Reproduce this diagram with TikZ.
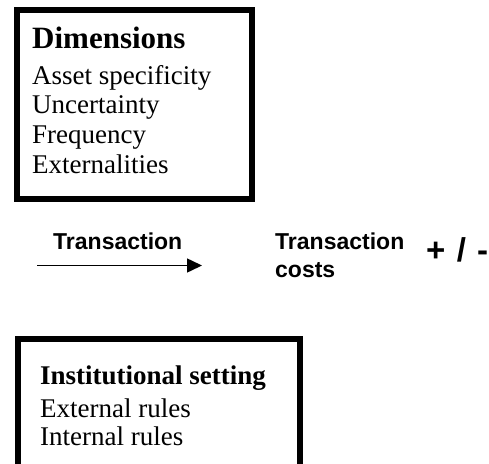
\documentclass[tikz,border=0pt]{standalone}
\usepackage{fontspec}
\setmainfont{Liberation Serif}
\setsansfont{Liberation Sans}
\usetikzlibrary{arrows.meta}
\begin{document}
\begin{tikzpicture}[x=1pt,y=-1pt,
  framebox/.style={draw=black,line width=6pt,inner sep=0pt,anchor=north west},
  headtxt/.style={anchor=base west,inner sep=0pt,font=\bfseries\fontsize{#1}{#1}\selectfont},
  itemtxt/.style={anchor=base west,inner sep=0pt,font=\fontsize{27}{27}\selectfont},
  sanstxt/.style={anchor=base west,inner sep=0pt,font=\sffamily\bfseries\fontsize{#1}{#1}\selectfont}]
\useasboundingbox (0,0) rectangle (489,463);
\begin{scope}
\clip (0,0) rectangle (489,463);
% Dimensions box
\node[framebox,minimum width=235pt,minimum height=189pt] (dimbox) at (14,7) {};
\node[headtxt=31] (dimhead) at (32,48) {Dimensions};
\node[itemtxt] (asset) at (32,84) {Asset specificity};
\node[itemtxt] (uncert) at (32,113) {Uncertainty};
\node[itemtxt] (freq) at (32,143) {Frequency};
\node[itemtxt] (extern) at (32,173) {Externalities};
% Institutional setting box, its lower edge just reaching the bottom
\node[framebox,minimum width=282pt,minimum height=128pt] (instbox) at (14.5,336) {};
\node[headtxt=27] (insthead) at (40,384) {Institutional setting};
\node[itemtxt] (extrules) at (40,417) {External rules};
\node[itemtxt] (intrules) at (40,445) {Internal rules};
% Plus / minus sign, running to the right edge
\node[sanstxt=33] (sign) at (426,261) {+\hspace{11.5pt}/\hspace{11pt}-};
\end{scope}
% Transaction arrow
\node[sanstxt=23] (trans) at (53,249) {Transaction};
\coordinate (arrstart) at (37,265.5);
\coordinate (arrend) at (202,265.5);
\draw[line width=1.5pt,-{Triangle[length=15pt,width=14pt]}] (arrstart) -- (arrend);
% Transaction costs
\node[sanstxt=23] (tcost1) at (275,249) {Transaction};
\node[sanstxt=23] (tcost2) at (275,277) {costs};
\end{tikzpicture}
\end{document}
